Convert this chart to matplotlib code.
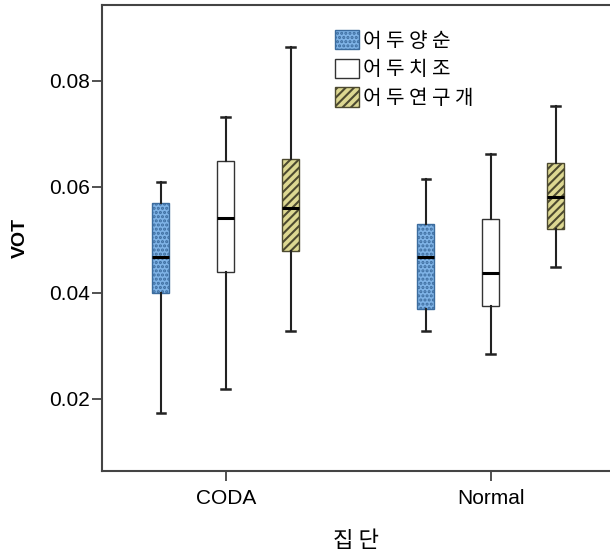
import matplotlib
matplotlib.use("Agg")
import matplotlib.pyplot as plt
from matplotlib.patches import Patch

plt.rcParams['font.family'] = ['Liberation Sans', 'Noto Sans CJK KR', 'DejaVu Sans']
plt.rcParams['hatch.linewidth'] = 1.5

groups = ["CODA", "Normal"]
series = ["어두양순", "어두치조", "어두연구개"]

# per series: values for [CODA, Normal]
whislo = {"어두양순": [0.0174, 0.0329], "어두치조": [0.0218, 0.0284], "어두연구개": [0.0329, 0.0448]}
q1     = {"어두양순": [0.0399, 0.0369], "어두치조": [0.0440, 0.0375], "어두연구개": [0.0480, 0.0520]}
med    = {"어두양순": [0.0467, 0.0467], "어두치조": [0.0541, 0.0437], "어두연구개": [0.0560, 0.0581]}
q3     = {"어두양순": [0.0569, 0.0530], "어두치조": [0.0648, 0.0540], "어두연구개": [0.0653, 0.0645]}
whishi = {"어두양순": [0.0610, 0.0615], "어두치조": [0.0731, 0.0662], "어두연구개": [0.0864, 0.0753]}

yticks = [0.02, 0.04, 0.06, 0.08]
ytick_labels = ["0.02", "0.04", "0.06", "0.08"]

faces = {"어두양순": "#7fb3e6", "어두치조": "#ffffff", "어두연구개": "#ddd892"}
hatches = {"어두양순": "....", "어두치조": None, "어두연구개": "////"}
edges = {"어두양순": "#3c6c9e", "어두치조": "#333333", "어두연구개": "#4d4a30"}
offsets = [-0.245, 0.0, 0.245]

fig = plt.figure(figsize=(6.10, 5.53), dpi=100)
ax = fig.add_axes([102/610, 82/553, 1 - 102/610, (471-5)/553])

for s, off in zip(series, offsets):
    stats = []
    for gi in range(len(groups)):
        stats.append(dict(med=med[s][gi], q1=q1[s][gi], q3=q3[s][gi],
                          whislo=whislo[s][gi], whishi=whishi[s][gi], fliers=[]))
    positions = [gi + off for gi in range(len(groups))]
    bp = ax.bxp(stats, positions=positions, widths=0.064, patch_artist=True,
                showfliers=False, capwidths=0.032,
                boxprops=dict(edgecolor=edges[s], linewidth=1.0),
                medianprops=dict(color="black", linewidth=2.2),
                whiskerprops=dict(color="#222222", linewidth=1.5),
                capprops=dict(color="#222222", linewidth=1.8))
    for b in bp['boxes']:
        b.set_facecolor(faces[s])
        if hatches[s]:
            b.set_hatch(hatches[s])

ax.set_xlim(-0.4668, 1.450)
ax.set_ylim(0.00642, 0.0943)
ax.set_xticks(range(len(groups)))
ax.set_xticklabels(groups, fontsize=15)
ax.set_yticks(yticks)
ax.set_yticklabels(ytick_labels, fontsize=15)
ax.tick_params(axis='both', direction='out', length=7, width=1.2, color="#333333")
ax.tick_params(axis='x', pad=6)
ax.tick_params(axis='y', pad=2)
ax.spines['right'].set_visible(False)
for sp in ['left', 'bottom', 'top']:
    ax.spines[sp].set_linewidth(1.5)
    ax.spines[sp].set_color("#444444")

ax.set_ylabel("VOT", fontsize=14, fontweight='bold', labelpad=14)
ax.set_xlabel("집 단", fontsize=16, family=['Noto Sans CJK KR', 'DejaVu Sans'], labelpad=15)

handles = [Patch(facecolor=faces[s], edgecolor=edges[s], hatch=hatches[s]) for s in series]
leg_labels = [" ".join(list(s)) for s in series]
leg = ax.legend(handles, leg_labels, loc='upper left', bbox_to_anchor=(0.423, 0.985),
                frameon=False, handlelength=1.2, handleheight=1.1,
                handletextpad=0.2, labelspacing=0.35,
                prop={'family': ['Noto Sans CJK KR', 'DejaVu Sans'], 'size': 14.5})

fig.savefig("out.png", dpi=100)
